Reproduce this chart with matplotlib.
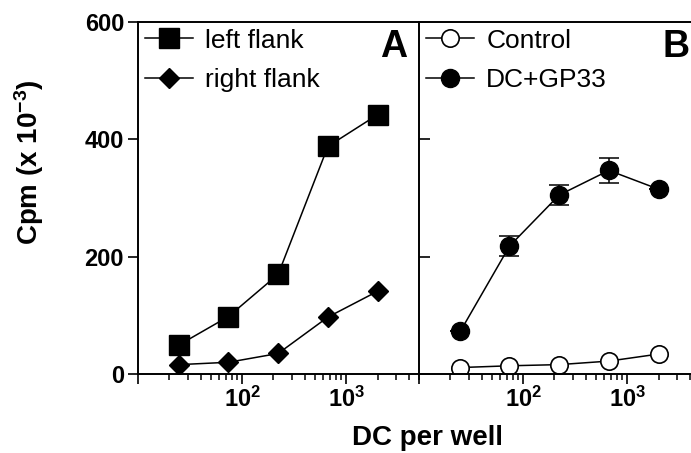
import matplotlib
matplotlib.use('Agg')
import matplotlib.pyplot as plt
from matplotlib.ticker import FixedLocator, LogLocator, NullFormatter

plt.rcParams['font.family'] = ['Liberation Sans', 'DejaVu Sans']
plt.rcParams['mathtext.fontset'] = 'custom'
plt.rcParams['mathtext.rm'] = 'Liberation Sans:bold'
plt.rcParams['mathtext.bf'] = 'Liberation Sans:bold'
plt.rcParams['mathtext.it'] = 'Liberation Sans:bold'

# DC per well (3-fold dilutions)
dc = [25, 74, 222, 667, 2000]
# panel A
left_flank = [50, 98, 170, 388, 442]
right_flank = [16, 20, 35, 97, 141]
# panel B
control = [11, 14, 16, 22, 34]
dc_gp33 = [73, 218, 305, 347, 315]
dc_gp33_err = [0, 17, 17, 21, 0]

xticks = [10, 100, 1000]
xticklabels = ['', r'$\mathbf{10^{2}}$', r'$\mathbf{10^{3}}$']
yticks = [0, 200, 400, 600]

W, H = 691, 453
fig = plt.figure(figsize=(W / 100, H / 100), dpi=100)

def px(x0, y0, x1, y1):
    # pixel box (from top-left) -> figure coords
    return [x0 / W, 1 - y1 / H, (x1 - x0) / W, (y1 - y0) / H]

axA = fig.add_axes(px(138, 22, 419, 374))
axB = fig.add_axes(px(419, 22, 700, 374))

lw = 1.1
axA.plot(dc, left_flank, '-s', color='black', lw=lw, ms=14, label='left flank')
axA.plot(dc, right_flank, '-D', color='black', lw=lw, ms=10.3, label='right flank')

axB.plot(dc, control, '-o', color='black', mfc='white', mew=1.2, lw=lw, ms=12.5, label='Control')
axB.errorbar(dc, dc_gp33, yerr=dc_gp33_err, fmt='none', ecolor='black',
             capsize=7, elinewidth=1.1, capthick=1.1)
axB.plot(dc, dc_gp33, '-o', color='black', lw=lw, ms=13, label='DC+GP33')

for ax in (axA, axB):
    ax.set_xscale('log')
    ax.set_xlim(10, 5000)
    ax.set_ylim(0, 600)
    ax.xaxis.set_major_locator(FixedLocator(xticks))
    ax.set_xticklabels(xticklabels)
    ax.xaxis.set_minor_locator(LogLocator(base=10, subs=range(2, 10)))
    ax.xaxis.set_minor_formatter(NullFormatter())
    ax.set_yticks(yticks)
    ax.tick_params(axis='x', which='major', length=7, width=1.2, labelsize=17, pad=2)
    ax.tick_params(axis='x', which='minor', length=4.5, width=1.1)
    for s in ax.spines.values():
        s.set_linewidth(1.4)
    ax.legend(loc='upper left', bbox_to_anchor=(0.0, 1.0), frameon=False, fontsize=19,
              handlelength=1.85, handletextpad=0.45, labelspacing=0.58,
              borderpad=0.1, borderaxespad=0.15, numpoints=1)

axA.spines['right'].set_visible(False)
axA.set_yticklabels([str(v) for v in yticks], fontweight='bold')
axA.tick_params(axis='y', length=7, width=1.2, labelsize=17, pad=3)

axB.spines['right'].set_visible(False)
axB.tick_params(axis='y', direction='in', length=8, width=1.2, labelleft=False)

axA.text(0.957, 0.93, 'A', transform=axA.transAxes, ha='right', va='center',
         fontsize=27, fontweight='bold')
axB.text(0.963, 0.93, 'B', transform=axB.transAxes, ha='right', va='center',
         fontsize=27, fontweight='bold')

fig.text(29 / W, 1 - 162 / H, 'Cpm (x 10$^{\\mathbf{-3}}$)', rotation=90,
         ha='center', va='center', fontsize=20, fontweight='bold')
fig.text(428 / W, 1 - 438 / H, 'DC per well', ha='center', va='center',
         fontsize=20, fontweight='bold')

fig.savefig('out.png', dpi=100)
